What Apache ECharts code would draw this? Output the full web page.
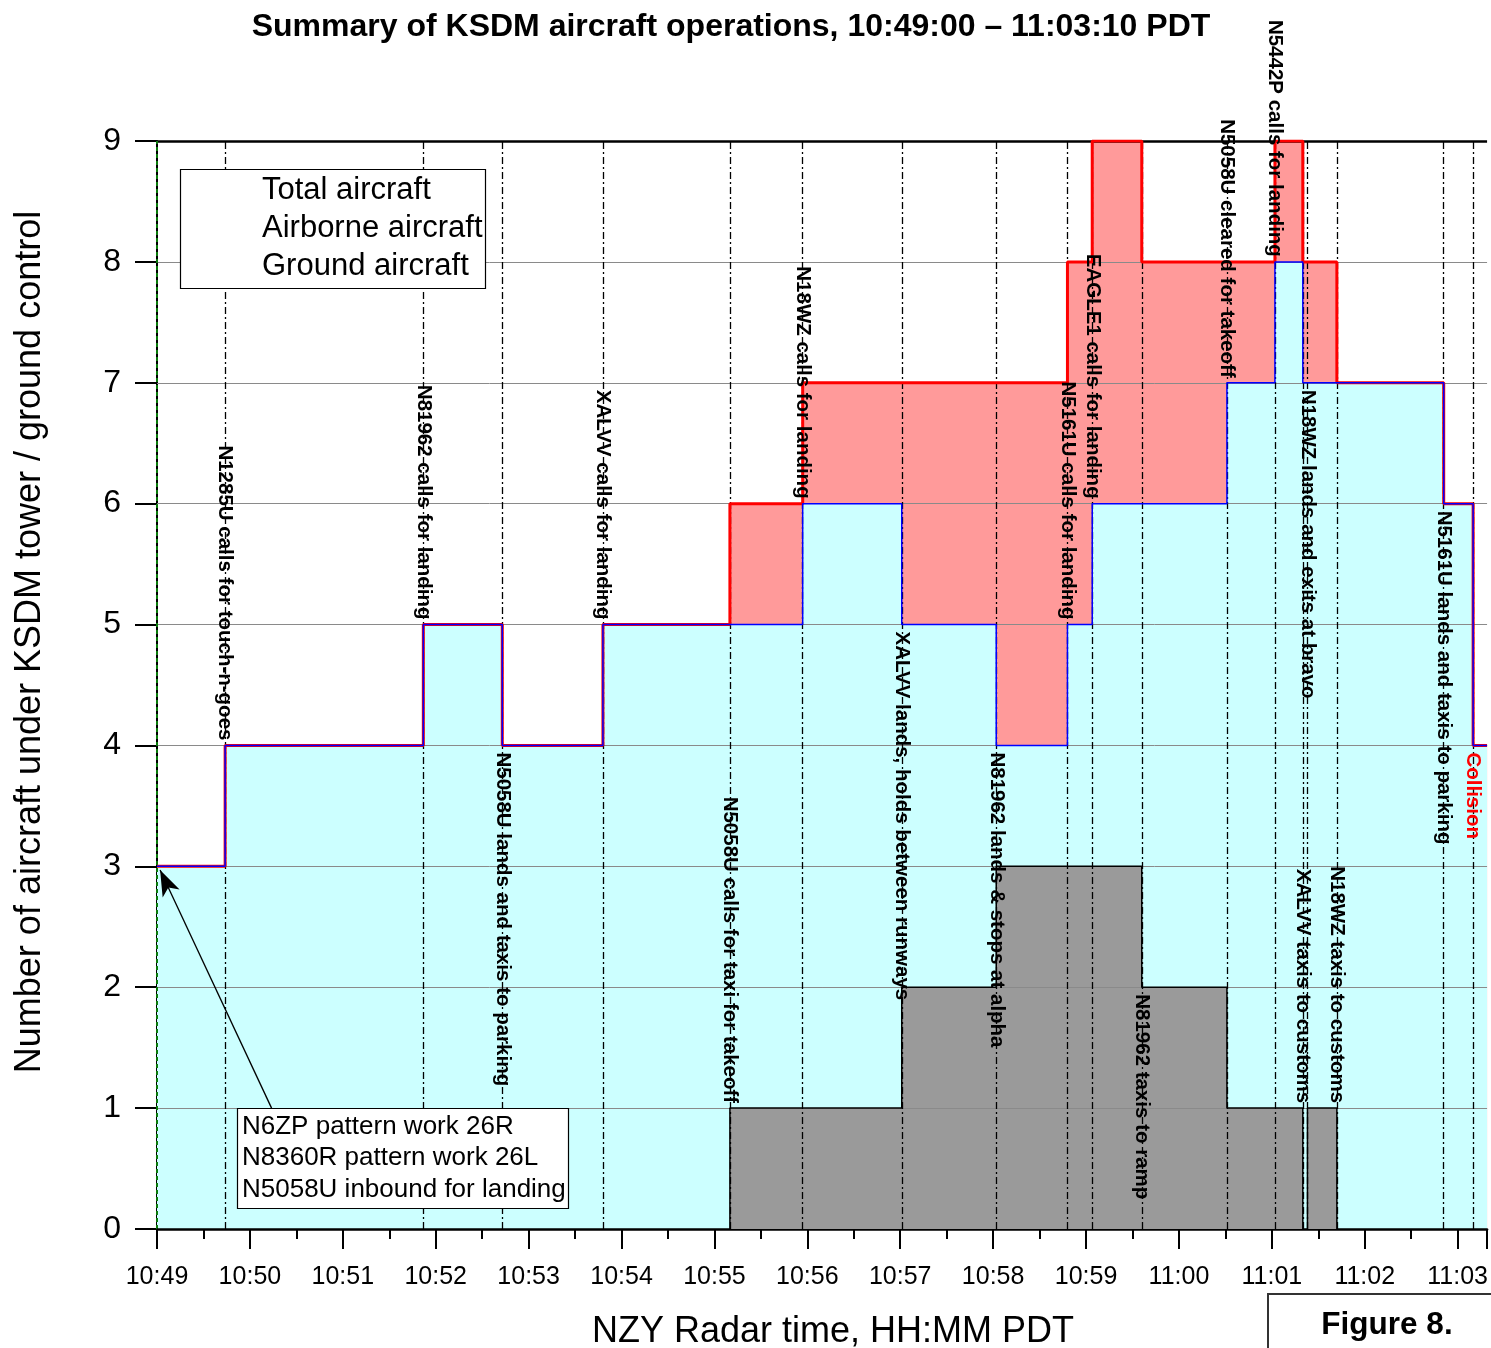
<!DOCTYPE html>
<html>
<head>
<meta charset="utf-8">
<script src="https://cdn.jsdelivr.net/npm/echarts@6/dist/echarts.min.js"></script>
<style>
html,body{margin:0;padding:0;background:#fff;}
#chart{width:1491px;height:1348px;}
</style>
</head>
<body>
<div id="chart"></div>
<script>
// ---- DATA (seconds after 10:49:00 PDT) ----
const stepTimes     = [0, 44, 172, 223, 288, 370, 417, 481, 542, 588, 604, 636, 691, 722, 740, 743, 762, 831, 850, 859];
const totalCount    = [3, 4, 5, 4, 5, 6, 7, 7, 7, 8, 9, 8, 8, 9, 8, 8, 7, 6, 4, 4];
const airborneCount = [3, 4, 5, 4, 5, 5, 6, 5, 4, 5, 6, 6, 7, 8, 7, 7, 7, 6, 4, 4];
const groundCount   = [0, 0, 0, 0, 0, 1, 1, 2, 3, 3, 3, 2, 1, 1, 0, 1, 0, 0, 0, 0];

const eventTimes  = [44, 172, 223, 288, 370, 417, 481, 542, 588, 604, 636, 691, 722, 740, 743, 762, 831, 850];
const eventLabels = [
  'N1285U calls for touch-n-goes',
  'N81962 calls for landing',
  'N5058U lands and taxis to parking',
  'XALVV calls for landing',
  'N5058U calls for taxi for takeoff',
  'N18WZ calls for landing',
  'XALVV lands, holds between runways',
  'N81962 lands & stops at alpha',
  'N5161U calls for landing',
  'EAGLE1 calls for landing',
  'N81962 taxis to ramp',
  'N5058U cleared for takeoff',
  'N5442P calls for landing',
  'XALVV taxis to customs',
  'N18WZ lands and exits at bravo',
  'N18WZ taxis to customs',
  'N5161U lands and taxis to parking',
  'Collision'
];
const eventAnchor = [4, 5, 4, 5, 1, 6, 5, 4, 5, 6, 2, 7, 8, 1, 7, 1, 6, 4];
const eventSide   = ['above','above','below','above','above','above','below','below','above','above','below','above','above','above','below','above','below','below'];

const xTickLabels = ['10:49','10:50','10:51','10:52','10:53','10:54','10:55','10:56','10:57','10:58','10:59','11:00','11:01','11:02','11:03'];
const yTicks = [0,1,2,3,4,5,6,7,8,9];

const seriesNames = ['Total aircraft', 'Airborne aircraft', 'Ground aircraft'];
const annotationLines = ['N6ZP pattern work 26R', 'N8360R pattern work 26L', 'N5058U inbound for landing'];
const arrowFrom = [74, 1.0];   // annotation box top
const arrowTo   = [2, 2.97];   // start of chart, 3 aircraft

const titleText = 'Summary of KSDM aircraft operations, 10:49:00 \u2013 11:03:10 PDT';
const xName = 'NZY Radar time, HH:MM PDT';
const yName = 'Number of aircraft under KSDM tower / ground control';
const figureText = 'Figure 8.';

// ---- CHART ----
const FONT = '"Liberation Sans", Arial, Helvetica, sans-serif';
const pts = arr => stepTimes.map((t, i) => [t, arr[i]]);
const chart = echarts.init(document.getElementById('chart'), null, {renderer: 'canvas'});

function areaSeries(name, data, color, z) {
  return {type: 'line', name, data: pts(data), step: 'end', showSymbol: false, symbol: 'none',
    lineStyle: {width: 0}, areaStyle: {color, opacity: 1}, z, silent: true};
}
function lineSeries(name, data, color, width, z) {
  return {type: 'line', name: name + ' line', data: pts(data), step: 'end', showSymbol: false, symbol: 'none',
    lineStyle: {width, color}, z, silent: true};
}

const gridLines = yTicks.filter(v => v > 0 && v < yTicks[yTicks.length - 1]).map(v => ({yAxis: v,
  lineStyle: {color: '#8a8a8a', width: 1, type: 'solid'}}));
const eventLines = eventTimes.map(t => ({xAxis: t, lineStyle: {color: '#000', width: 1.3, type: [7, 3, 2, 3]}}));
const topLine = {yAxis: yTicks[yTicks.length - 1], lineStyle: {color: '#000', width: 2.5, type: 'solid'}};
const startLine = {xAxis: 0, lineStyle: {color: '#0a7a0a', width: 2, type: [4, 3]}};

const option = {
  backgroundColor: '#fff',
  animation: false,
  grid: {left: 157, right: 0, top: 141, bottom: 119, containLabel: false},
  xAxis: {
    type: 'value', min: 0, max: 859, interval: 60,
    axisLine: {show: true, onZero: false, lineStyle: {color: '#000', width: 2.5}},
    axisTick: {show: true, inside: false, length: 20, lineStyle: {color: '#000', width: 2}},
    minorTick: {show: true, splitNumber: 2, length: 10, lineStyle: {color: '#000', width: 2}},
    splitLine: {show: false},
    axisLabel: {show: true, margin: 36, fontFamily: FONT, fontSize: 25, color: '#000', showMaxLabel: false,
      formatter: v => (v % 60 === 0 ? (xTickLabels[v / 60] || '') : '')}
  },
  yAxis: {
    type: 'value', min: 0, max: 9, interval: 1,
    axisLine: {show: true, lineStyle: {color: '#000', width: 2}},
    axisTick: {show: true, inside: false, length: 22, lineStyle: {color: '#000', width: 2}},
    splitLine: {show: false},
    axisLabel: {margin: 36, fontFamily: FONT, fontSize: 32, color: '#000'}
  },
  series: [
    areaSeries(seriesNames[0], totalCount, '#ff9a9a', 1),
    areaSeries(seriesNames[1], airborneCount, '#ccffff', 2),
    areaSeries(seriesNames[2], groundCount, '#9a9a9a', 3),
    {
      type: 'line', name: 'helper', data: [], z: 4, silent: true,
      markLine: {
        silent: true, symbol: 'none', animation: false, label: {show: false},
        data: gridLines.concat(eventLines, [topLine, startLine])
      }
    },
    lineSeries(seriesNames[0], totalCount, '#ff0000', 3, 5),
    lineSeries(seriesNames[1], airborneCount, '#0000ff', 1.5, 6),
    lineSeries(seriesNames[2], groundCount, '#000000', 1.5, 7),
    {
      type: 'line', name: 'arrow', data: [], z: 8, silent: true,
      markLine: {
        silent: true, animation: false, label: {show: false},
        symbol: ['none', 'arrow'], symbolSize: [14, 26],
        lineStyle: {color: '#000', width: 1.3, type: 'solid'},
        itemStyle: {color: '#000'},
        data: [[{coord: arrowFrom}, {coord: arrowTo}]]
      }
    },
    {
      type: 'custom', name: 'events', z: 9, silent: true, clip: false,
      data: eventTimes.map((t, i) => [t, eventAnchor[i], i]),
      renderItem: function (params, api) {
        const i = api.value(2);
        const p = api.coord([api.value(0), api.value(1)]);
        const above = eventSide[i] === 'above';
        const red = eventLabels[i] === 'Collision';
        return {
          type: 'text', x: p[0], y: p[1] + (above ? -5 : 7), rotation: -Math.PI / 2,
          style: {
            text: eventLabels[i], textAlign: above ? 'right' : 'left', textVerticalAlign: 'middle',
            font: 'bold 20.5px ' + FONT, fill: red ? '#ff0000' : '#000'
          }
        };
      }
    }
  ],
  graphic: [
    {type: 'text', x: 731, y: 27, style: {text: titleText, font: 'bold 32px ' + FONT, fill: '#000', textAlign: 'center', textVerticalAlign: 'middle'}},
    {type: 'text', x: 30, y: 642, rotation: Math.PI / 2,
      style: {text: yName, font: '36px ' + FONT, fill: '#000', textAlign: 'center', textVerticalAlign: 'middle'}},
    {type: 'text', x: 833, y: 1332,
      style: {text: xName, font: '36px ' + FONT, fill: '#000', textAlign: 'center', textVerticalAlign: 'middle'}},
    {type: 'rect', shape: {x: 180.5, y: 169.5, width: 305, height: 119}, style: {fill: '#fff', stroke: '#000', lineWidth: 1.2}, z: 100},
    {type: 'text', x: 262, y: 190, z: 101, style: {text: seriesNames[0], font: '31px ' + FONT, fill: '#000', textVerticalAlign: 'middle'}},
    {type: 'text', x: 262, y: 228, z: 101, style: {text: seriesNames[1], font: '31px ' + FONT, fill: '#000', textVerticalAlign: 'middle'}},
    {type: 'text', x: 262, y: 266, z: 101, style: {text: seriesNames[2], font: '31px ' + FONT, fill: '#000', textVerticalAlign: 'middle'}},
    {type: 'rect', shape: {x: 237.5, y: 1108.5, width: 331, height: 100}, style: {fill: '#fff', stroke: '#000', lineWidth: 1.2}, z: 100},
    {type: 'text', x: 242, y: 1127, z: 101, style: {text: annotationLines[0], font: '26px ' + FONT, fill: '#000', textVerticalAlign: 'middle'}},
    {type: 'text', x: 242, y: 1158, z: 101, style: {text: annotationLines[1], font: '26px ' + FONT, fill: '#000', textVerticalAlign: 'middle'}},
    {type: 'text', x: 242, y: 1190, z: 101, style: {text: annotationLines[2], font: '26px ' + FONT, fill: '#000', textVerticalAlign: 'middle'}},
    {type: 'polyline', shape: {points: [[1268, 1350], [1268, 1294], [1495, 1294]]}, style: {stroke: '#333', lineWidth: 2, fill: null}, z: 100},
    {type: 'text', x: 1387, y: 1325, z: 101, style: {text: figureText, font: 'bold 31.5px ' + FONT, fill: '#000', textAlign: 'center', textVerticalAlign: 'middle'}}
  ]
};
chart.setOption(option);
</script>
</body>
</html>
